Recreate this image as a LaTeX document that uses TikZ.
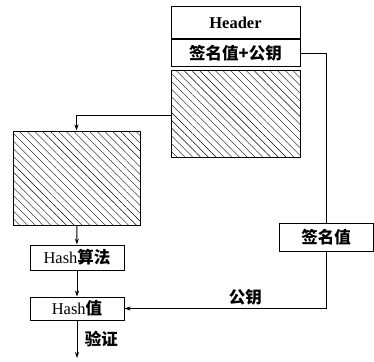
\documentclass[tikz,border=0pt]{standalone}
\usepackage{fontspec}
\setmainfont{Liberation Serif}
\newfontfamily\cjk{Noto Sans CJK SC}
\usepackage{tikz}
\usetikzlibrary{shapes,arrows.meta,positioning,patterns.meta}
\newcommand{\zh}[1]{{\cjk\bfseries #1}}

\begin{document}
\begin{tikzpicture}[x=1pt, y=-1pt, node distance=20pt,
  font=\fontsize{16.5}{18}\selectfont,
  box/.style={rectangle,draw,line width=1pt,inner sep=0pt,minimum width=94pt,minimum height=25pt},
  hatch/.style={rectangle,draw,line width=1pt,inner sep=0pt,
    pattern={Lines[angle=-45,distance=5.5pt,line width=0.4pt]}},
  arrow/.style={-{Stealth[length=6pt,width=4pt]},line width=0.9pt},
  link/.style={line width=0.9pt}]
  \useasboundingbox (0,0) rectangle (374,361);
  % signed message block
  \node[box,minimum width=129pt,minimum height=32pt] (header) at (235.5,23) {\textbf{Header}};
  \node[box,minimum width=129pt,minimum height=26pt,below=0pt of header] (sigkey) {\zh{签名值+公钥}};
  \node[hatch,minimum width=129pt,minimum height=87pt,below=4pt of sigkey] (body) {};
  % check side
  \node[hatch,minimum width=127pt,minimum height=94pt] (content) at (76.5,178) {};
  \node[box] (algo) at (77,257.5) {Hash\zh{算法}};
  \node[box,minimum height=23pt] (digest) at (77,308.5) {Hash\zh{值}};
  \node[box,minimum height=28pt] (sig) at (326,237) {\zh{签名值}};
  \coordinate (out) at (77,358);

  \draw[arrow] (body.west |- 0,115) -| (content.north);
  \draw[arrow] (content) -- (algo);
  \draw[arrow] (algo) -- (digest);
  \draw[arrow] (digest) -- node[right=4pt] {\zh{验证}} (out);
  \draw[link] (sigkey.east) -| (sig.north);
  \draw[arrow] (sig.south) |- node[pos=0.70,above=-1pt] {\zh{公钥}} (digest.east);
\end{tikzpicture}
\end{document}
